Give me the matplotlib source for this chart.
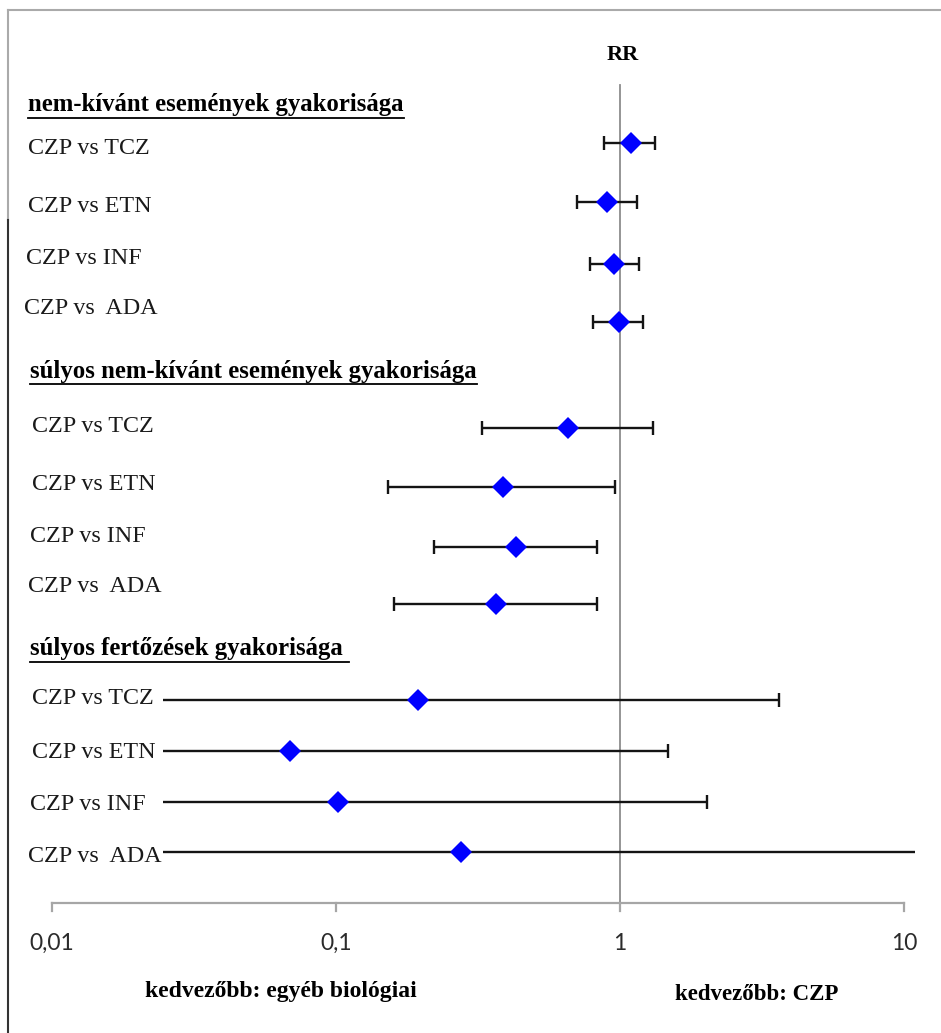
import numpy as np
import matplotlib
matplotlib.use("Agg")
import matplotlib.pyplot as plt
from matplotlib.lines import Line2D

# Risk ratios with 95% CI, three outcome groups, four comparisons each
groups = ['nem-kívánt események gyakorisága',
          'súlyos nem-kívánt események gyakorisága',
          'súlyos fertőzések gyakorisága ']
comparisons = ['CZP vs TCZ', 'CZP vs ETN', 'CZP vs INF', 'CZP vs  ADA']

rr = [[1.09, 0.90, 0.955, 0.99],
      [0.658, 0.386, 0.431, 0.367],
      [0.194, 0.069, 0.102, 0.275]]
ci_low = [[0.88, 0.704, 0.786, 0.801],
          [0.327, 0.153, 0.221, 0.160],
          [0.02, 0.02, 0.02, 0.02]]
ci_high = [[1.325, 1.145, 1.167, 1.202],
           [1.304, 0.958, 0.828, 0.828],
           [3.63, 1.476, 2.02, 12.0]]

tick_values = [0.01, 0.1, 1, 10]
tick_labels = ['0,01', '0,1', '1', '10']

# page layout (pixels from the top-left corner)
W, H = 941, 1033
header_y = [105, 371, 649]
row_y = [[143, 202, 264, 322], [428, 487, 547, 604], [700, 751, 802, 852]]
label_y = [[148, 206, 258, 308], [427, 485, 537, 587], [698, 753, 805, 856]]
label_x = [[28, 28, 26, 24], [32, 32, 30, 28], [32, 32, 30, 28]]
header_x = [28, 30, 30]
axis_y = 903
px_decade = 284.0
x_001 = 52.0          # pixel of 0.01
plot_left, plot_right = 163.0, 915.0


def px2val(px):
    return 10 ** (-2 + (px - x_001) / px_decade)


fig = plt.figure(figsize=(W / 100, H / 100), dpi=100)
ax = fig.add_axes([plot_left / W, 0, (plot_right - plot_left) / W, 1])
ax.set_xscale('log')
ax.set_xlim(px2val(plot_left), px2val(plot_right))
ax.set_ylim(H, 0)
ax.axis('off')

serif = 'Liberation Serif'

# reference line at RR = 1
ax.plot([1, 1], [85, 911], color='#8c8c8c', lw=1.3, clip_on=False, zorder=1)

# horizontal log axis with downward ticks
ax.plot([tick_values[0], tick_values[-1]], [axis_y, axis_y], color='#a6a6a6',
        lw=1.6, clip_on=False, zorder=1)
for tv, tl in zip(tick_values, tick_labels):
    ax.plot([tv, tv], [axis_y, axis_y + 8], color='#a6a6a6', lw=1.6,
            clip_on=False, zorder=1)
    ax.text(tv, 943, tl, ha='center', va='center', fontsize=16.5,
            family='Lato', color='#2b2b2b', clip_on=False)

for g in range(3):
    est = np.array(rr[g])
    lo = np.array(ci_low[g])
    hi = np.array(ci_high[g])
    ax.errorbar(est, row_y[g], xerr=[est - lo, hi - est], fmt='none',
                ecolor='#141414', elinewidth=1.7, capsize=4.8, capthick=1.7,
                zorder=2)
    ax.plot(est, row_y[g], 'D', color='#0000ff', markersize=11.5,
            markeredgewidth=0, zorder=3)

# row labels and underlined group headers
fig.canvas.draw()
renderer = fig.canvas.get_renderer()
for g in range(3):
    t = fig.text(header_x[g] / W, 1 - header_y[g] / H, groups[g],
                 ha='left', va='center', fontsize=17.8, fontweight='bold',
                 family=serif, color='black')
    bb = t.get_window_extent(renderer)
    uy = bb.y0 - 1
    fig.add_artist(Line2D([bb.x0 / W, bb.x1 / W], [uy / H, uy / H],
                          color='black', lw=1.3))
    for i, lab in enumerate(comparisons):
        fig.text(label_x[g][i] / W, 1 - label_y[g][i] / H, lab, ha='left',
                 va='center', fontsize=17.3, family=serif, color='#1a1a1a',
                 zorder=5,
                 bbox=dict(boxstyle='square,pad=0.05', fc='white', ec='none'))

fig.text(623 / W, 1 - 55 / H, 'RR', ha='center', va='center', fontsize=16,
         fontweight='bold', family=serif)
fig.text(281 / W, 1 - 992 / H, 'kedvezőbb: egyéb biológiai', ha='center',
         va='center', fontsize=17, fontweight='bold', family=serif)
fig.text(757 / W, 1 - 994 / H, 'kedvezőbb: CZP', ha='center', va='center',
         fontsize=16.5, fontweight='bold', family=serif)

# outer frame (top and left edges)
fig.add_artist(Line2D([8 / W, 1], [1 - 9.5 / H, 1 - 9.5 / H],
                      color='#aaaaaa', lw=1.5))
fig.add_artist(Line2D([8 / W, 8 / W], [1 - 9.5 / H, 1 - 220 / H],
                      color='#aaaaaa', lw=1.5))
fig.add_artist(Line2D([8 / W, 8 / W], [1 - 220 / H, 0],
                      color='#333333', lw=1.5))

fig.savefig('out.png', dpi=100, facecolor='white')
